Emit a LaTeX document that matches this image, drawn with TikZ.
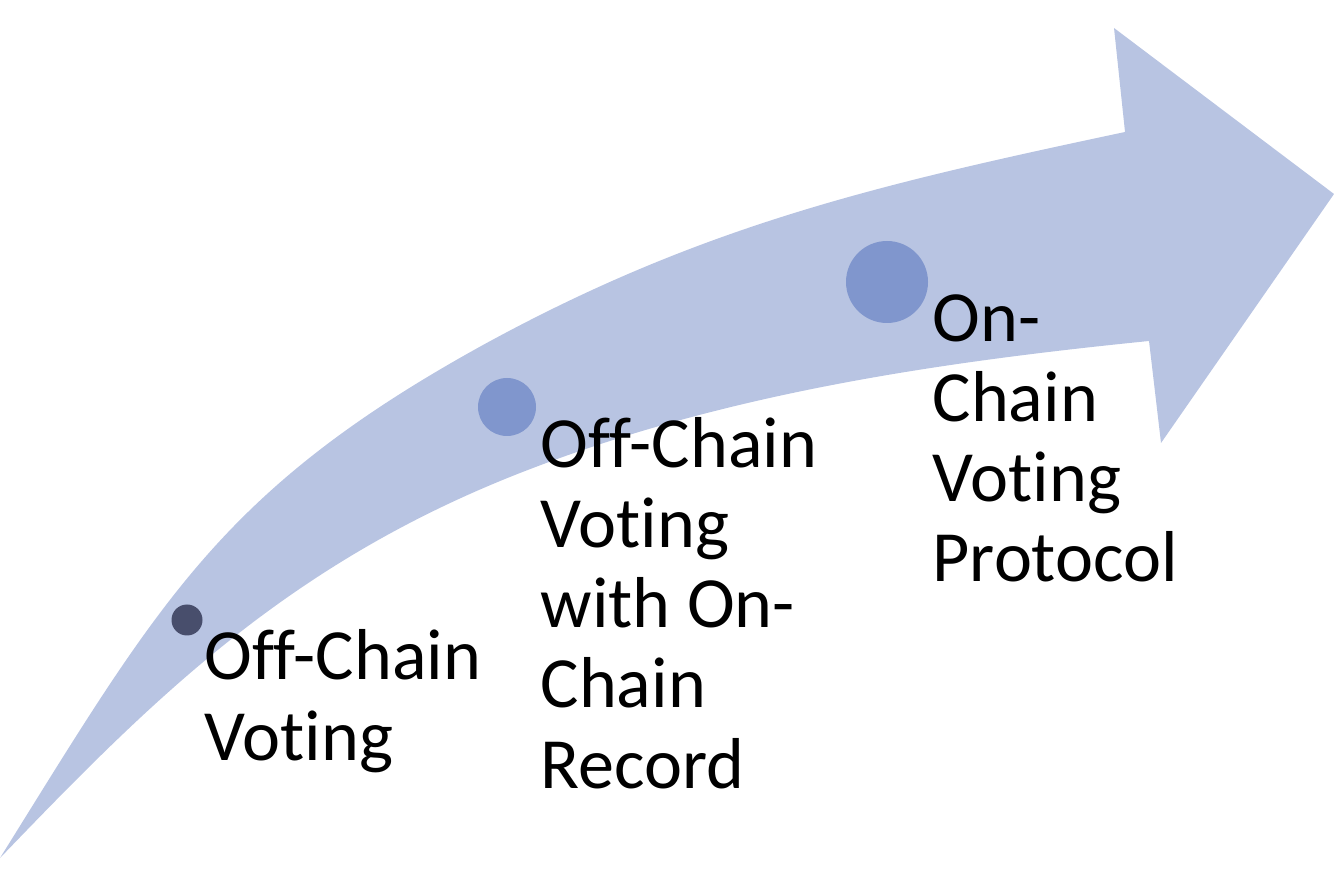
\documentclass[tikz,border=0pt]{standalone}
\usepackage{fontspec}
\setmainfont{Carlito}[Ligatures=NoCommon]
\usetikzlibrary{positioning}
\definecolor{arrowfill}{RGB}{184,196,226}
\definecolor{dotfill}{RGB}{128,150,205}
\definecolor{dotdark}{RGB}{72,78,108}
\tikzset{stage/.style={anchor=base west, align=left, inner sep=0pt, font=\fontsize{20.5}{22.8}\selectfont}}

\begin{document}
\begin{tikzpicture}[x=0.01cm, y=-0.01cm]
	\useasboundingbox (0,0) rectangle (1334,889);
	
	% the bent arrow
	\fill[arrowfill] (0,858) .. controls (159,603) and (220,490) .. (483,345)
		.. controls (702,225) and (880,184) .. (1125,132)
		-- (1114,28) -- (1334,194) -- (1161,443) -- (1149,341)
		.. controls (940,362) and (729,393) .. (533,468)
		.. controls (290,560) and (152,700) .. (0,858) -- cycle;
	
	\fill[dotdark] (187,620) circle (15.5);
	\fill[dotfill] (507,407) circle (29);
	\fill[dotfill] (887,282) circle (41);
	
	% base anchor sits on the last line
	\node[stage] (offchain) at (204,760) {Off-Chain\\Voting};
	\node[stage] (offrecord) at (540,788) {Off-Chain\\Voting\\with On-\\Chain\\Record};
	\node[stage] (onchain) at (932,582) {On-\\Chain\\Voting\\Protocol};
\end{tikzpicture}
\end{document}
